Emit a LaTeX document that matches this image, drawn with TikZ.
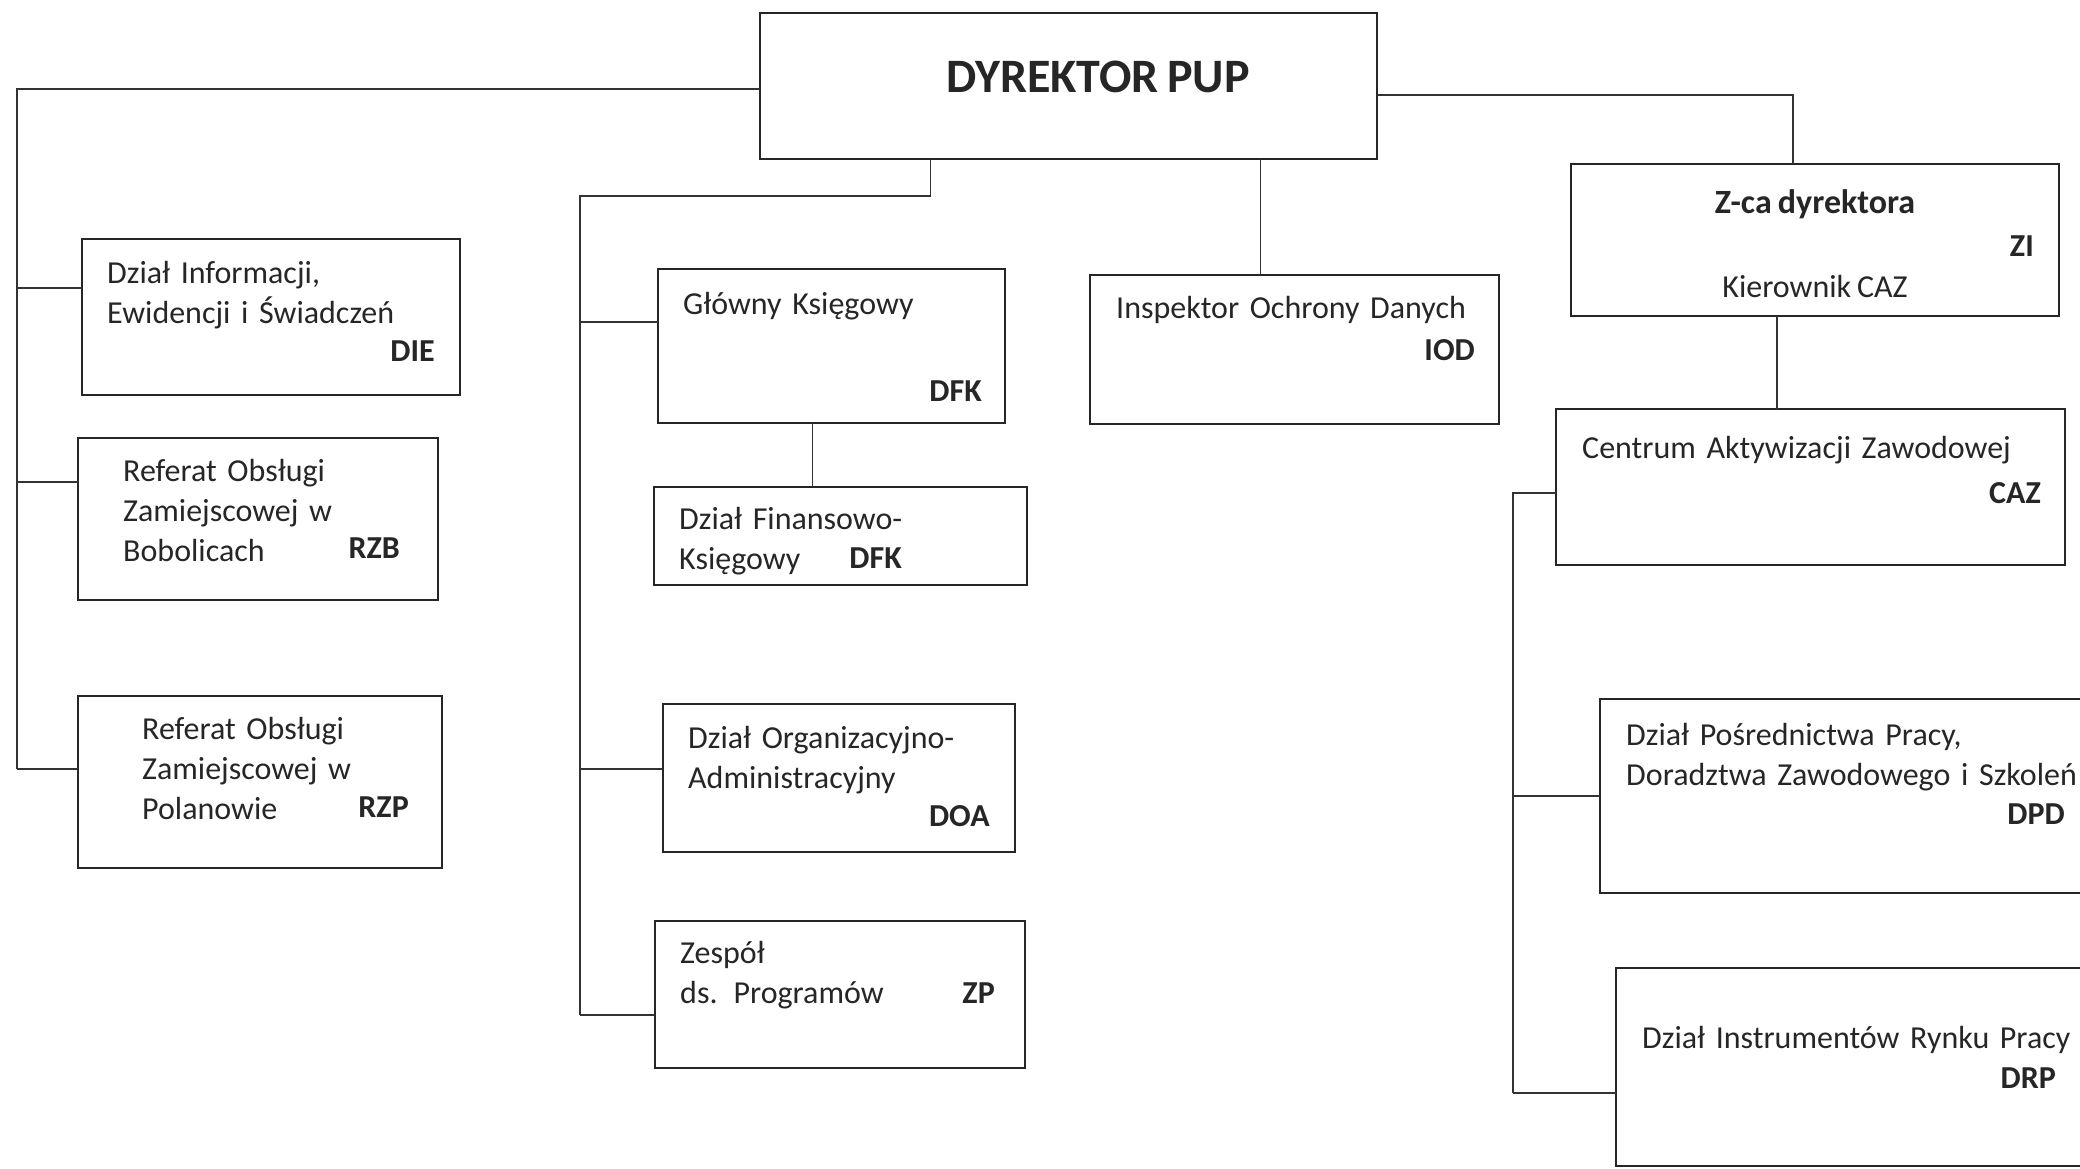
\documentclass[tikz,border=0pt]{standalone}
\usepackage{fontspec}
\setmainfont[WordSpace=0.8]{Carlito}
\usepackage{tikz}
\usetikzlibrary{positioning,calc}
\tikzset{>=stealth}
\tikzset{
  unit/.style={draw=black!85,line width=2.5pt,inner sep=0pt,outer sep=0pt,anchor=north west},
  link/.style={draw=black!80,line width=1.6pt},
  txt/.style={text=black!85,font=\fontsize{32}{40}\selectfont,text width=520pt,align=left,inner sep=0pt,anchor=base west},
  code/.style={text=black!85,font=\fontsize{32}{40}\selectfont\bfseries,inner sep=0pt,anchor=base east},
  ctr/.style={text=black!85,font=\fontsize{32}{40}\selectfont,inner sep=0pt,anchor=base}
}

\begin{document}
\begin{tikzpicture}[x=1pt,y=-1pt]
\useasboundingbox (0,0) rectangle (2080,1168);
% Page is 2080 x 1168, y runs down

% Boxes
\node[unit,minimum width=617,minimum height=146] (dyr) at (760,13) {};
\node[unit,minimum width=378,minimum height=156] (die) at (82,239) {};
\node[unit,minimum width=360,minimum height=162] (rzb) at (78,438) {};
\node[unit,minimum width=364,minimum height=172] (rzp) at (78,696) {};
\node[unit,minimum width=347,minimum height=154] (glowny) at (658,269) {};
\node[unit,minimum width=373,minimum height=98] (fin) at (654,487) {};
\node[unit,minimum width=352,minimum height=148] (doa) at (663,704) {};
\node[unit,minimum width=370,minimum height=147] (zp) at (655,921) {};
\node[unit,minimum width=409,minimum height=149] (iod) at (1090,275) {};
\node[unit,minimum width=488,minimum height=152] (zi) at (1571,164) {};
\node[unit,minimum width=509,minimum height=156] (caz) at (1556,409) {};
\node[unit,minimum width=490,minimum height=194] (dpd) at (1600,699) {};
\node[unit,minimum width=474,minimum height=198] (drp) at (1616,968) {};

% Texts
\node[ctr,font=\fontsize{48}{56}\selectfont\bfseries] (dyr-t) at (1098,92) {DYREKTOR PUP};

\node[txt] (die-t) at (107,283) {Dział Informacji,\\Ewidencji i Świadczeń};
\node[code] (die-c) at (435,361) {DIE};
\node[txt] (rzb-t) at (123,481) {Referat Obsługi\\Zamiejscowej w\\Bobolicach};
\node[code] (rzb-c) at (400,558) {RZB};
\node[txt] (rzp-t) at (142,739) {Referat Obsługi\\Zamiejscowej w\\Polanowie};
\node[code] (rzp-c) at (409,817) {RZP};

\node[txt] (glowny-t) at (683,314) {Główny Księgowy};
\node[code] (glowny-c) at (982,401) {DFK};
\node[txt] (fin-t) at (679,529) {Dział Finansowo-\\Księgowy};
\node[code] (fin-c) at (902,568) {DFK};
\node[txt] (doa-t) at (688,748) {Dział Organizacyjno-\\Administracyjny};
\node[code] (doa-c) at (990,826) {DOA};
\node[txt] (zp-t) at (680,963) {Zespół\\ds. Programów};
\node[code] (zp-c) at (995,1003) {ZP};

\node[txt] (iod-t) at (1116,318) {Inspektor Ochrony Danych};
\node[code] (iod-c) at (1475,360) {IOD};

\node[ctr,font=\fontsize{34}{40}\selectfont\bfseries] (zi-t) at (1815,213) {Z-ca dyrektora};
\node[code] (zi-c) at (2034,256) {ZI};
\node[ctr] (zi-k) at (1815,297) {Kierownik CAZ};
\node[txt] (caz-t) at (1582,458) {Centrum Aktywizacji Zawodowej};
\node[code] (caz-c) at (2041,503) {CAZ};
\node[txt] (dpd-t) at (1626,745) {Dział Pośrednictwa Pracy,\\Doradztwa Zawodowego i Szkoleń};
\node[code] (dpd-c) at (2065,824) {DPD};
\node[txt] (drp-t) at (1642,1048) {Dział Instrumentów Rynku Pracy};
\node[code] (drp-c) at (2056,1088) {DRP};

% Trunk ends and attach points
\coordinate (ltrunk) at (17,769);
\coordinate (mtop) at (580,196);
\coordinate (mtrunk) at (580,1015);
\coordinate (rtrunk) at (1513,1093);
\coordinate (die-in) at ([yshift=29]die.west);
\coordinate (rzb-in) at ([yshift=37]rzb.west);
\coordinate (glowny-in) at ([yshift=24]glowny.west);
\coordinate (doa-in) at ([yshift=9]doa.west);
\coordinate (dyr-m) at ([xshift=-138]dyr.south);
\coordinate (glowny-out) at ([xshift=-19]glowny.south);
\coordinate (iod-in) at ([xshift=-34]iod.north);
\coordinate (zi-out) at ([xshift=-38]zi.south);

% Left branch
\draw[link] ([yshift=-3]dyr.west) -| (ltrunk);
\draw[link] (die-in) -- (ltrunk |- die-in);
\draw[link] (rzb-in) -- (ltrunk |- rzb-in);
\draw[link] (ltrunk) -- (ltrunk -| rzp.west);

% Middle branch
\draw[link] (dyr-m) -- (dyr-m |- mtop) -- (mtop) -- (mtrunk);
\draw[link] (glowny-in) -- (mtop |- glowny-in);
\draw[link] (doa-in) -- (mtop |- doa-in);
\draw[link] (mtrunk) -- (mtrunk -| zp.west);
\draw[link] (glowny-out) -- (glowny-out |- fin.north);
\draw[link] (iod-in |- dyr.south) -- (iod-in);

% Right branch
\draw[link] ([yshift=-9]dyr.east) -| ([xshift=-22]zi.north);
\draw[link] (zi-out) -- (zi-out |- caz.north);
\draw[link] ([yshift=-6]caz.west) -| (rtrunk);
\draw[link] (dpd.west) -- (rtrunk |- dpd.west);
\draw[link] (rtrunk) -- (rtrunk -| drp.west);

\end{tikzpicture}
\end{document}
